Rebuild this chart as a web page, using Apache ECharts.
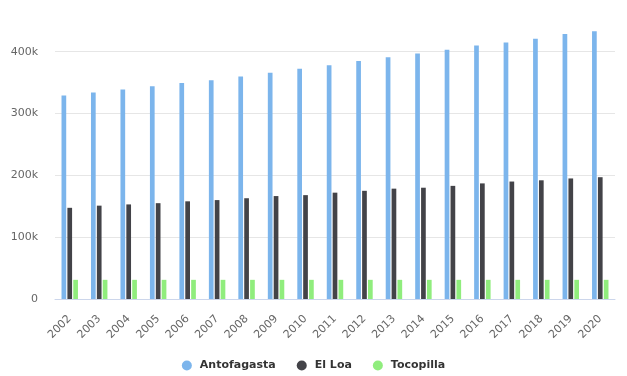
<!DOCTYPE html>
<html>
<head>
<meta charset="utf-8">
<script src="https://cdn.jsdelivr.net/npm/echarts@6/dist/echarts.min.js"></script>
<style>
html,body{margin:0;padding:0;background:#fff;}
#chart{width:627px;height:376px;}
</style>
</head>
<body>
<div id="chart"></div>
<script>
var categories = ['2002','2003','2004','2005','2006','2007','2008','2009','2010','2011','2012','2013','2014','2015','2016','2017','2018','2019','2020'];
var antofagasta = [329000,334000,339000,344000,349500,354000,360000,366000,372500,378000,385000,391000,397000,403000,410000,415000,421000,428500,433000];
var elLoa = [147500,151000,153000,155000,158000,160000,163000,166500,168000,172000,175000,178500,180000,183000,187000,190000,192000,195000,197000];
var tocopilla = [31000,31000,31000,31000,31000,31000,31000,31000,31000,31000,31000,31000,31000,31000,31000,31000,31000,31000,31000];
var seriesNames = ['Antofagasta','El Loa','Tocopilla'];
var colors = ['#7cb5ec','#434348','#90ed7d'];

var chart = echarts.init(document.getElementById('chart'), null, {renderer:'canvas'});
var font = '"DejaVu Sans", sans-serif';
var dataSets = [antofagasta, elLoa, tocopilla];
chart.setOption({
  animation:false,
  color: colors,
  grid:{left:55, right:12, top:20.8, bottom:77, containLabel:false},
  legend:{
    data: seriesNames,
    left:'center', top:360, padding:0,
    icon:'circle', itemWidth:16, itemHeight:10, itemGap:21,
    textStyle:{fontFamily:font, fontWeight:'bold', fontSize:11, color:'#333333'}
  },
  xAxis:{
    type:'category', data:categories,
    axisLine:{lineStyle:{color:'#ccd6eb'}},
    axisTick:{show:false},
    axisLabel:{rotate:45, fontFamily:font, fontSize:11, color:'#666666', margin:18, interval:0}
  },
  yAxis:{
    type:'value', min:0, max:450000, interval:100000,
    axisLine:{show:false}, axisTick:{show:false},
    splitLine:{showMaxLine:false, lineStyle:{color:'#e6e6e6'}},
    axisLabel:{fontFamily:font, fontSize:11, color:'#666666', margin:17, showMaxLabel:false,
      formatter:function(v){return v===0?'0':(v/1000)+'k';}}
  },
  series: seriesNames.map(function(n,i){
    return {name:n, type:'bar', data:dataSets[i], barWidth:4.7, barGap:'25%'};
  })
});
</script>
</body>
</html>
